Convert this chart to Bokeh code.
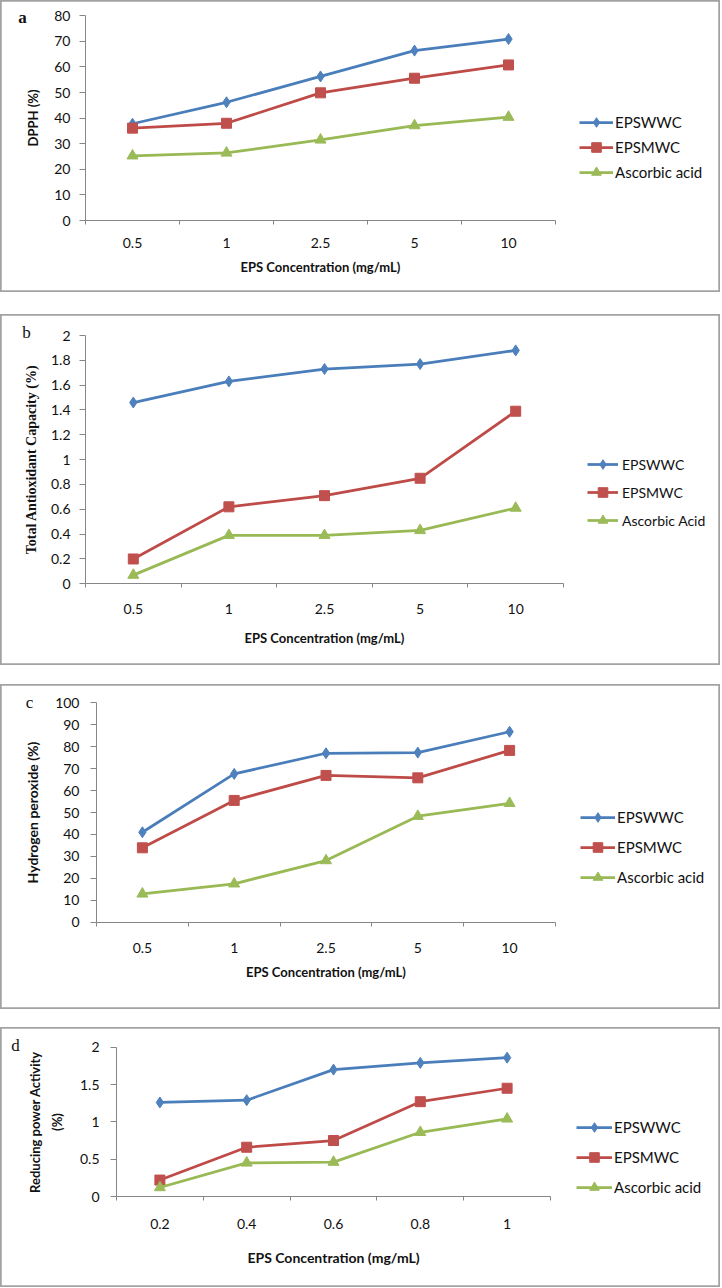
from bokeh.plotting import figure
from bokeh.models import (FixedTicker, SingleIntervalTicker, PrintfTickFormatter,
                          Legend, LegendItem, Label, Spacer, Range1d)
from bokeh.layouts import column
from bokeh.embed import file_html
from bokeh.resources import INLINE

# ---------------- data ----------------
series_names_a = ["EPSWWC", "EPSMWC", "Ascorbic acid"]
series_names_b = ["EPSWWC", "EPSMWC", "Ascorbic Acid"]

conc_categories = ["0.5", "1", "2.5", "5", "10"]
conc_categories_d = ["0.2", "0.4", "0.6", "0.8", "1"]

dpph_epswwc = [37.8, 46.2, 56.3, 66.4, 70.9]
dpph_epsmwc = [36.1, 38.0, 49.9, 55.6, 60.8]
dpph_ascorbic = [25.3, 26.4, 31.5, 37.1, 40.4]

tac_epswwc = [1.46, 1.63, 1.73, 1.77, 1.88]
tac_epsmwc = [0.20, 0.62, 0.71, 0.85, 1.39]
tac_ascorbic = [0.07, 0.39, 0.39, 0.43, 0.61]

h2o2_epswwc = [41.0, 67.6, 77.0, 77.3, 86.8]
h2o2_epsmwc = [33.9, 55.5, 66.9, 65.8, 78.3]
h2o2_ascorbic = [12.9, 17.5, 28.1, 48.3, 54.2]

rp_epswwc = [1.26, 1.29, 1.70, 1.79, 1.86]
rp_epsmwc = [0.22, 0.66, 0.75, 1.27, 1.45]
rp_ascorbic = [0.12, 0.45, 0.46, 0.86, 1.04]

# ---------------- styles ----------------
W = 720
AXIS_GRAY = "#868686"
BOX_GRAY = "#a3a3a3"
TEXT = "#111111"
STYLES = [
    dict(line="#4A7EBB", fill="#4F81BD", marker="diamond", size=11),
    dict(line="#BE4B48", fill="#C0504D", marker="square", size=10),
    dict(line="#98B954", fill="#9BBB59", marker="triangle", size=11),
]


def make_panel(cats, values, names, ymax, yint, ylabel, letter, g):
    # g: pixel geometry of the panel (page coordinates)
    n = len(cats)
    H = g["y1"] - g["y0"]
    L, R, T, B = g["L"], g["R"], g["T"], g["B"]
    xppu = (R - L) / n
    yppu = (B - T) / ymax
    xr = Range1d(-L / xppu, (W - L) / xppu)
    yr = Range1d(-(g["y1"] - B) / yppu, ymax + (T - g["y0"]) / yppu)

    p = figure(width=W, height=H, output_backend="svg", toolbar_location=None,
               x_range=xr, y_range=yr,
               min_border=0, min_border_left=0, min_border_right=0,
               min_border_top=0, min_border_bottom=0)
    p.outline_line_color = BOX_GRAY
    p.outline_line_width = 2.5
    p.xgrid.visible = False
    p.ygrid.visible = False
    p.background_fill_color = "white"
    p.border_fill_color = "white"

    xs = [i + 0.5 for i in range(n)]

    # x axis
    xa = p.xaxis[0]
    xa.fixed_location = 0
    xa.bounds = (0, n)
    xa.ticker = FixedTicker(ticks=xs, minor_ticks=list(range(n + 1)))
    xa.major_label_overrides = {x: c for x, c in zip(xs, cats)}
    xa.major_tick_line_color = None
    xa.major_tick_out = 0
    xa.major_tick_in = 0
    xa.minor_tick_line_color = AXIS_GRAY
    xa.minor_tick_out = 4
    xa.minor_tick_in = 0
    xa.axis_line_color = AXIS_GRAY
    xa.major_label_text_font = "Lato"
    xa.major_label_text_font_size = "14px"
    xa.major_label_text_color = TEXT
    xa.major_label_standoff = g["xls"]
    xa.axis_label = "EPS Concentration (mg/mL)"
    xa.axis_label_text_font = "Lato"
    xa.axis_label_text_font_style = "bold"
    xa.axis_label_text_font_size = g["xtfs"]
    xa.axis_label_text_color = TEXT
    xa.axis_label_standoff = g["xts"]

    # y axis
    ya = p.yaxis[0]
    ya.fixed_location = 0
    ya.bounds = (0, ymax)
    ya.ticker = SingleIntervalTicker(interval=yint, num_minor_ticks=0)
    ya.formatter = PrintfTickFormatter(format="%.3g")
    ya.major_tick_out = 6
    ya.major_tick_in = 0
    ya.minor_tick_line_color = None
    ya.major_tick_line_color = AXIS_GRAY
    ya.axis_line_color = AXIS_GRAY
    ya.major_label_text_font = "Lato"
    ya.major_label_text_font_size = "14px"
    ya.major_label_text_color = TEXT
    ya.major_label_standoff = g["yls"]
    ya.axis_label = ylabel
    ya.axis_label_text_font = g["ytf"]
    ya.axis_label_text_font_style = "bold"
    ya.axis_label_text_font_size = g["ytfs"]
    ya.axis_label_text_color = TEXT
    ya.axis_label_standoff = g["yts"]
    ya.axis_label_text_line_height = 1.4

    items = []
    for name, ys, st in zip(names, values, STYLES):
        rl = p.line(xs, ys, line_color=st["line"], line_width=2.75)
        rm = p.scatter(xs, ys, marker=st["marker"], size=st["size"],
                       fill_color=st["fill"], line_color=st["fill"])
        items.append(LegendItem(label=name, renderers=[rl, rm]))

    lg = Legend(items=items, location=g["loc"], border_line_color=None,
                background_fill_alpha=0, padding=0, margin=0,
                glyph_width=g["gw"], glyph_height=24, label_height=24,
                label_standoff=g["lst"], spacing=g["sp"],
                label_text_font="Lato", label_text_font_size=g["lfs"],
                label_text_color=TEXT)
    p.add_layout(lg)

    # panel letter
    lx, ly = g["letter"]
    p.add_layout(Label(x=(lx - L) / xppu, y=(B - ly) / yppu, x_units="data", y_units="data",
                       text=letter, text_font="Liberation Serif", text_font_size="17px",
                       text_font_style=g["lstyle"], text_align="center",
                       text_baseline="middle", text_color=TEXT))
    return p


pa = make_panel(conc_categories, [dpph_epswwc, dpph_epsmwc, dpph_ascorbic], series_names_a,
                80, 10, "DPPH (%)", "a",
                dict(y0=0, y1=292, L=85, R=555, T=15.3, B=220,
                     xls=13, xts=8, xtfs="13px",
                     yls=9, yts=10, ytf="Lato", ytfs="13px",
                     loc=(579, 108), gw=34, lst=2, sp=1, lfs="15px",
                     letter=(22, 17), lstyle="bold"))

pb = make_panel(conc_categories, [tac_epswwc, tac_epsmwc, tac_ascorbic], series_names_b,
                2, 0.2, "Total Antioxidant Capacity (%)", "b",
                dict(y0=314, y1=665, L=85, R=563, T=335, B=583.3,
                     xls=16, xts=13, xtfs="13px",
                     yls=9, yts=9, ytf="Liberation Serif", ytfs="14px",
                     loc=(587, 133), gw=31, lst=4, sp=4, lfs="14px",
                     letter=(26, 332), lstyle="normal"))

pc = make_panel(conc_categories, [h2o2_epswwc, h2o2_epsmwc, h2o2_ascorbic], series_names_a,
                100, 10, "Hydrogen peroxide (%)", "c",
                dict(y0=684, y1=1009, L=96, R=555, T=702.3, B=921.7,
                     xls=17, xts=7, xtfs="13px",
                     yls=11, yts=11, ytf="Lato", ytfs="14px",
                     loc=(580, 120), gw=35, lst=2, sp=6, lfs="15px",
                     letter=(29, 702), lstyle="normal"))

pd_ = make_panel(conc_categories_d, [rp_epswwc, rp_epsmwc, rp_ascorbic], series_names_a,
                 2, 0.5, "Reducing power Activity\n(%)", "d",
                 dict(y0=1027, y1=1287, L=116, R=550, T=1046.7, B=1196,
                      xls=18, xts=17, xtfs="14px",
                      yls=11, yts=12, ytf="Lato", ytfs="13px",
                      loc=(576, 88), gw=36, lst=2, sp=6, lfs="15px",
                      letter=(15, 1045), lstyle="normal"))

layout = column(pa, Spacer(width=W, height=22), pb, Spacer(width=W, height=19),
                pc, Spacer(width=W, height=18), pd_)

open("out.html", "w").write(file_html(layout, INLINE))
